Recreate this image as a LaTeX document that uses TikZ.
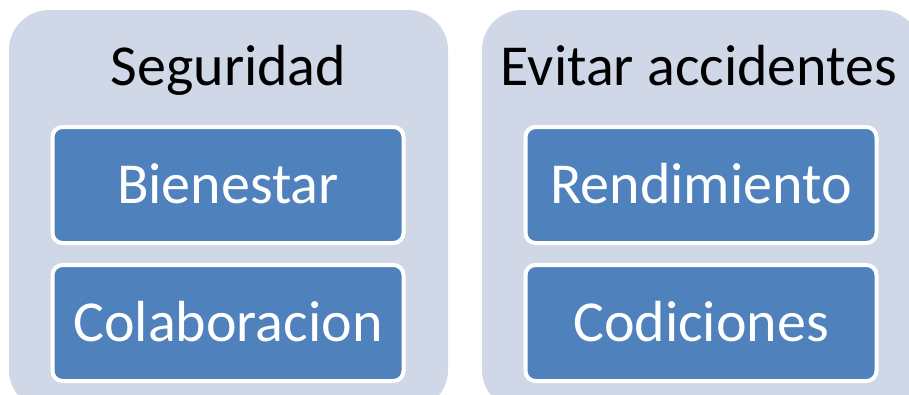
\documentclass[tikz,border=0pt]{standalone}
\usepackage{fontspec}
\setmainfont{Carlito}
\definecolor{outerfill}{HTML}{D0D8E8}
\definecolor{innerfill}{HTML}{4F81BD}
\begin{document}
\begin{tikzpicture}[x=1pt,y=-1pt,
  group/.style={fill=outerfill, rounded corners=40pt},
  item/.style={draw=white, line width=4pt, fill=innerfill, rounded corners=10pt,
    text=white, minimum width=351pt, minimum height=116pt,
    font=\fontsize{58}{60}\selectfont, text height=37.3pt, text depth=0pt, inner sep=0pt},
  grouptitle/.style={anchor=base, font=\fontsize{58}{60}\selectfont, text=black, inner sep=0pt}]
\useasboundingbox (0,0) rectangle (909,394);
\begin{scope}
\clip (0,0) rectangle (909,394);
\fill[group] (9,10) rectangle (448,410);
\fill[group] (482,10) rectangle (921,410);
\end{scope}
\node[grouptitle] (t1) at (228.5,85) {Seguridad};
\node[grouptitle] (t2) at (699,85) {Evitar accidentes};
\node[item] (b1) at (228,185) {Bienestar};
\node[item] (b2) at (228,323) {Colaboracion};
\node[item] (b3) at (701,185) {Rendimiento};
\node[item] (b4) at (701,323) {Codiciones};
\end{tikzpicture}
\end{document}
